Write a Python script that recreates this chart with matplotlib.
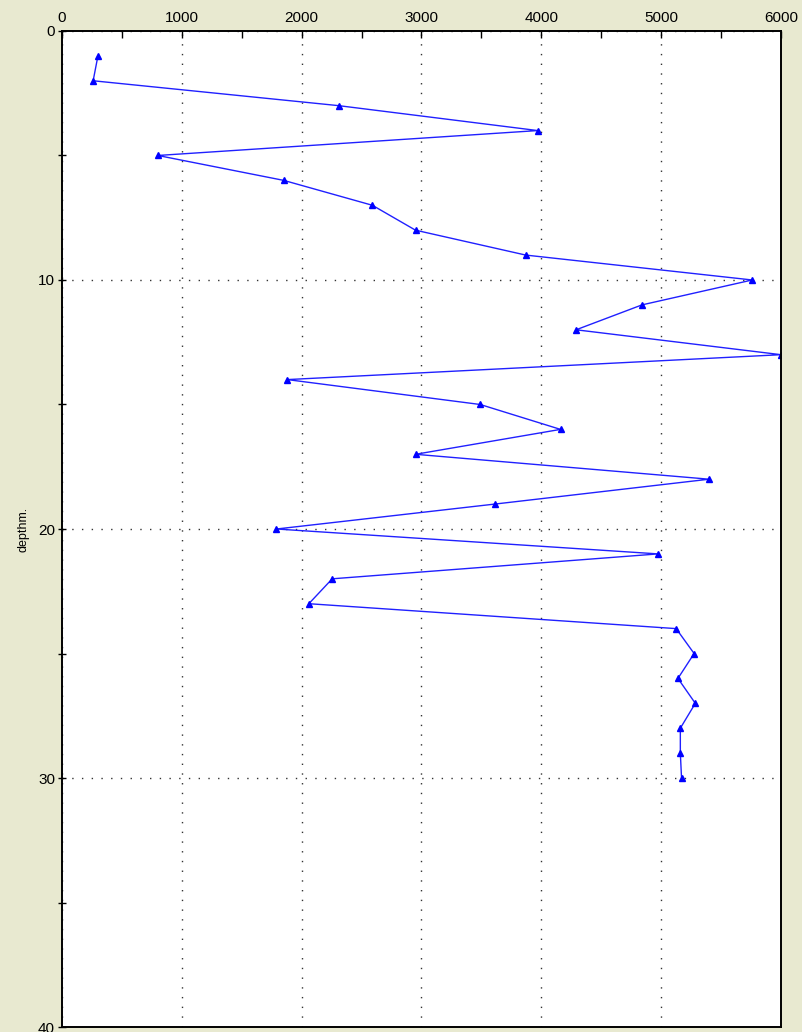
import matplotlib.pyplot as plt
from matplotlib.ticker import MultipleLocator

plt.rcParams['font.family'] = ['Liberation Sans', 'DejaVu Sans']

depth = list(range(1, 31))
value = [300, 260, 2310, 3970, 800, 1850, 2590, 2950, 3870, 5760,
         4840, 4290, 6000, 1880, 3490, 4160, 2950, 5400, 3610, 1790,
         4975, 2255, 2060, 5125, 5275, 5140, 5285, 5160, 5160, 5170]

bg = '#e8e9d0'

fig = plt.figure(figsize=(8.03, 10.32), dpi=100, facecolor=bg)
ax = fig.add_axes([0.0772, 0.0048, 0.8954, 0.9652])
ax.set_facecolor('white')

ax.plot(value, depth, color='#2020ff', lw=1.0, marker='^', markersize=5,
        markerfacecolor='#0000ff', markeredgecolor='#0000ff')

ax.set_xlim(0, 6000)
ax.set_ylim(40, 0)
ax.xaxis.set_major_locator(MultipleLocator(1000))
ax.xaxis.set_minor_locator(MultipleLocator(500))
ax.yaxis.set_major_locator(MultipleLocator(10))
ax.yaxis.set_minor_locator(MultipleLocator(5))
ax.xaxis.tick_top()

ax.tick_params(axis='x', which='both', direction='in', length=5, width=1,
               labelsize=11, pad=4, top=True, bottom=False)
ax.tick_params(axis='y', which='both', direction='inout', length=6, width=1,
               labelsize=11, pad=2)

ax.grid(True, which='major', color='#333333', linestyle=(0, (1, 6)), lw=1.0)

for s in ax.spines.values():
    s.set_color('black')
    s.set_linewidth(1.4)

ax.set_ylabel('depthm.', fontsize=9, labelpad=6)

fig.savefig('out.png', dpi=100, facecolor=bg)
